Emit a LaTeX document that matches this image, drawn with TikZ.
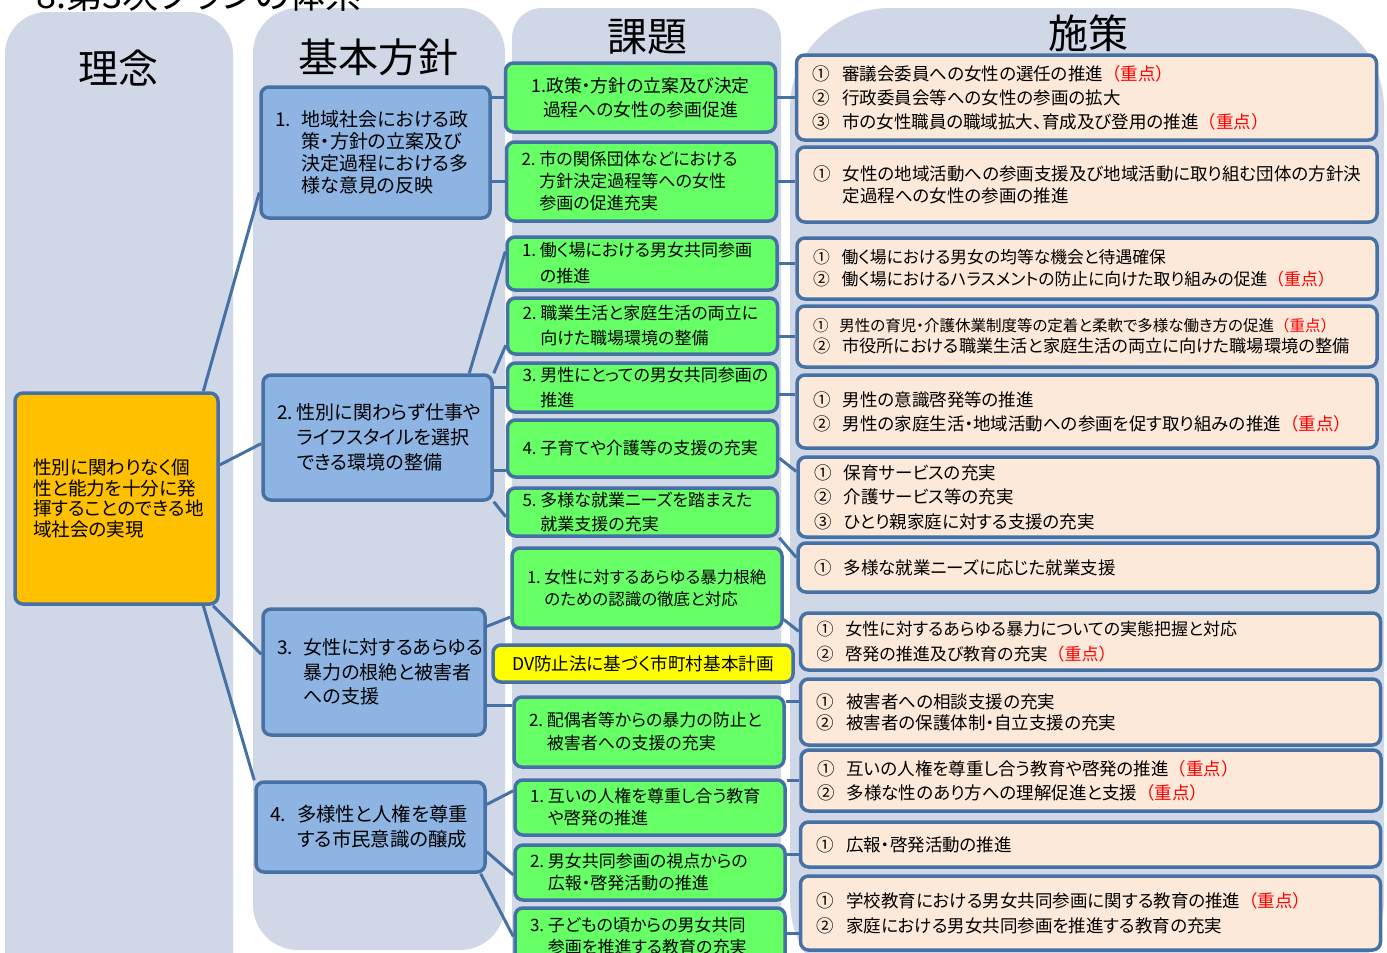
\documentclass[tikz,border=0pt]{standalone}
\usepackage{fontspec}
\setmainfont{Noto Sans CJK JP}[RawFeature=+palt]
\newfontfamily\jpmono{Noto Sans CJK JP}
\definecolor{colfill}{RGB}{208,216,232}
\definecolor{boxline}{RGB}{70,113,165}
\definecolor{bfill}{RGB}{142,180,227}
\definecolor{gfill}{RGB}{102,255,102}
\definecolor{sfill}{RGB}{253,233,217}
\definecolor{rootfill}{RGB}{255,192,0}
\definecolor{dvfill}{RGB}{255,255,0}
\definecolor{keyred}{RGB}{255,0,0}
\newcommand\keypt{{\jpmono\textcolor{keyred}{（重点）}}}
\newcommand\bnum[1]{\makebox[1.4em][l]{#1}}
\newcommand\bhang{\hspace*{1.4em}}
\newcommand\gnum[1]{\makebox[1.05em][l]{#1}}
\newcommand\ghang{\hspace*{1.05em}}
\newcommand\snum[1]{\makebox[1.7em][l]{#1}}
\newcommand\shang{\hspace*{1.7em}}
\begin{document}
\begin{tikzpicture}[x=1pt,y=-1pt,
  colbg/.style={fill=colfill},
  hdr/.style={font=\fontsize{40}{48}\selectfont},
  box/.style={draw=boxline, line width=3.5pt, rounded corners=8pt, inner ysep=0pt, align=left},
  bbox/.style={box, fill=bfill, inner xsep=14pt, font=\fontsize{19}{22}\selectfont},
  gbox/.style={box, fill=gfill, inner xsep=15pt, text width=240pt, font=\fontsize{17}{23}\selectfont},
  sbox/.style={box, fill=sfill, inner xsep=16pt, text width=548pt, font=\fontsize{17.5}{24}\selectfont},
  link/.style={draw=boxline, line width=3pt}]
\useasboundingbox (0,0) rectangle (1387,953);

% columns
\fill[colbg, rounded corners=42pt] (5,12) rectangle (233,1000);
\fill[colbg, rounded corners=45pt] (253,8) rectangle (505,950);
\fill[colbg, rounded corners=30pt] (512,8) rectangle (781,1000);
\fill[colbg, rounded corners=100pt] (790,8) rectangle (1384,1000);

\node[anchor=base west, font=\fontsize{36}{40}\selectfont] (title) at (33,8.5) {8.第3次プランの体系};
\node[hdr] (h1) at (118,68) {理念};
\node[hdr] (h2) at (378,57) {基本方針};
\node[hdr] (h3) at (647,37) {課題};
\node[hdr] (h4) at (1088,33) {施策};

% root
\node[box, fill=rootfill, text width=167pt, inner xsep=18pt, minimum height=211pt, font=\fontsize{18.6}{20.5}\selectfont] (root) at (116.5,498.5) {性別に関わりなく個\\性と能力を十分に発\\揮することのできる地\\域社会の実現};

% basic policies
\node[bbox, text width=201pt, minimum height=131pt] (b1) at (375.5,152.5) {\bnum{1.}地域社会における政\\\bhang 策・方針の立案及び\\\bhang 決定過程における多\\\bhang 様な意見の反映};
\node[bbox, text width=201pt, minimum height=125pt, font=\fontsize{19}{25}\selectfont] (b2) at (377.5,437.5) {\gnum{2.}性別に関わらず仕事や\\\ghang ライフスタイルを選択\\\ghang できる環境の整備};
\node[bbox, text width=194pt, minimum height=126pt, font=\fontsize{19}{24.5}\selectfont] (b3) at (374,672) {\bnum{3.}女性に対するあらゆる\\\bhang 暴力の根絶と被害者\\\bhang への支援};
\node[bbox, text width=201pt, minimum height=90pt, font=\fontsize{19.4}{25}\selectfont] (b4) at (370.5,827) {\bnum{4.}多様性と人権を尊重\\\bhang する市民意識の醸成};

% issues
\node[gbox, align=center, minimum height=69pt, font=\fontsize{17.8}{24}\selectfont] (g11) at (640.5,97.5) {1.政策・方針の立案及び決定\\過程への女性の参画促進};
\node[gbox, minimum height=79pt, font=\fontsize{17}{22}\selectfont] (g12) at (641.5,181.5) {\gnum{2.}市の関係団体などにおける\\\ghang 方針決定過程等への女性\\\ghang 参画の促進充実};
\node[gbox, minimum height=53pt, font=\fontsize{17}{26}\selectfont] (g21) at (642,263.5) {\gnum{1.}働く場における男女共同参画\\\ghang の推進};
\node[gbox, minimum height=56pt, font=\fontsize{17}{25}\selectfont] (g22) at (642.5,326) {\gnum{2.}職業生活と家庭生活の両立に\\\ghang 向けた職場環境の整備};
\node[gbox, minimum height=49pt, font=\fontsize{17}{25}\selectfont] (g23) at (642.5,387.5) {\gnum{3.}男性にとっての男女共同参画の\\\ghang 推進};
\node[gbox, minimum height=57pt] (g24) at (642.5,448.5) {\gnum{4.}子育てや介護等の支援の充実};
\node[gbox, minimum height=48pt, font=\fontsize{17}{24}\selectfont] (g25) at (642.5,512) {\gnum{5.}多様な就業ニーズを踏まえた\\\ghang 就業支援の充実};
\node[gbox, minimum height=80pt, font=\fontsize{16.5}{22}\selectfont] (g31) at (647,588) {\gnum{1.}女性に対するあらゆる暴力根絶\\\ghang のための認識の徹底と対応};
\node[box, fill=dvfill, minimum width=300pt, minimum height=37pt, align=center, font=\fontsize{17.6}{20}\selectfont] (dv) at (643,663.5) {DV防止法に基づく市町村基本計画};
\node[gbox, minimum height=70pt] (g32) at (649,732) {\gnum{2.}配偶者等からの暴力の防止と\\\ghang 被害者への支援の充実};
\node[gbox, minimum height=55pt, font=\fontsize{17}{22}\selectfont] (g41) at (650,807.5) {\gnum{1.}互いの人権を尊重し合う教育\\\ghang や啓発の推進};
\node[gbox, minimum height=55pt, font=\fontsize{17}{22}\selectfont] (g42) at (650,872.5) {\gnum{2.}男女共同参画の視点からの\\\ghang 広報・啓発活動の推進};
\node[gbox, minimum height=57pt, font=\fontsize{17}{22}\selectfont] (g43) at (650,936.5) {\gnum{3.}子どもの頃からの男女共同\\\ghang 参画を推進する教育の充実};

% measures
\node[sbox, minimum height=85pt] (s1) at (1086.5,97.5) {\snum{①}審議会委員への女性の選任の推進\keypt\\\snum{②}行政委員会等への女性の参画の拡大\\\snum{③}市の女性職員の職域拡大、育成及び登用の推進\keypt};
\node[sbox, minimum height=75pt, font=\fontsize{17.5}{22}\selectfont] (s2) at (1087,184.5) {\snum{①}女性の地域活動への参画支援及び地域活動に取り組む団体の方針決\\\shang 定過程への女性の参画の推進};
\node[sbox, minimum height=61pt, font=\fontsize{16.8}{22}\selectfont] (s3) at (1087,268.5) {\snum{①}働く場における男女の均等な機会と待遇確保\\\snum{②}働く場におけるハラスメントの防止に向けた取り組みの促進\keypt};
\node[sbox, minimum height=61pt, font=\fontsize{17.2}{21}\selectfont] (s4) at (1087,336.5) {{\fontsize{15.5}{21}\selectfont\snum{①}男性の育児・介護休業制度等の定着と柔軟で多様な働き方の促進\keypt}\\\snum{②}市役所における職業生活と家庭生活の両立に向けた職場環境の整備};
\node[sbox, minimum height=73pt] (s5) at (1087,411.5) {\snum{①}男性の意識啓発等の推進\\\snum{②}男性の家庭生活・地域活動への参画を促す取り組みの推進\keypt};
\node[sbox, minimum height=80pt, font=\fontsize{17.5}{24.5}\selectfont] (s6) at (1088,497) {\snum{①}保育サービスの充実\\\snum{②}介護サービス等の充実\\\snum{③}ひとり親家庭に対する支援の充実};
\node[sbox, minimum height=49pt] (s7) at (1088,567.5) {\snum{①}多様な就業ニーズに応じた就業支援};
\node[sbox, minimum height=57pt, font=\fontsize{17}{25}\selectfont] (s8) at (1090.5,641.5) {\snum{①}女性に対するあらゆる暴力についての実態把握と対応\\\snum{②}啓発の推進及び教育の充実\keypt};
\node[sbox, minimum height=66pt, font=\fontsize{17.5}{21}\selectfont] (s9) at (1090.5,712) {\snum{①}被害者への相談支援の充実\\\snum{②}被害者の保護体制・自立支援の充実};
\node[sbox, minimum height=61pt] (s10) at (1091,780.5) {\snum{①}互いの人権を尊重し合う教育や啓発の推進\keypt\\\snum{②}多様な性のあり方への理解促進と支援\keypt};
\node[sbox, minimum height=45pt] (s11) at (1090.5,844.5) {\snum{①}広報・啓発活動の推進};
\node[sbox, minimum height=74pt, font=\fontsize{17.5}{25}\selectfont] (s12) at (1090.5,913) {\snum{①}学校教育における男女共同参画に関する教育の推進\keypt\\\snum{②}家庭における男女共同参画を推進する教育の充実};

% root -> basic policies
\draw[link] (root.51) -- (b1.199);
\draw[link] (root.18) -- (b2.183);
\draw[link] (root.312) -- (b3.171);
\draw[link] (root.309) -- (b4.north west);

% basic policies -> issues
\draw[link] (b1.east |- g11.west) -- (g11.west);
\draw[link] (b1.east |- g12.west) -- (g12.west);
\draw[link] (b2.35) -- (g21.175);
\draw[link] (b2.north east) -- (g22.188);
\draw[link] (b2.east |- g23.west) -- (g23.west);
\draw[link] (b2.east |- g24.189) -- (g24.189);
\draw[link] (b2.south east) -- (g25.182);
\draw[link] (b3.22) -- (g31.192);
\draw[link] (b3.east |- g32.169) -- (g32.169);
\draw[link] (b4.11) -- (g41.173);
\draw[link] (b4.348) -- (g42.181);
\draw[link] (b4.337) -- (g43.west);

% issues -> measures
\draw[link] (g11.east) -- (s1.west |- g11.east);
\draw[link] (g12.east) -- (s2.west |- g12.east);
\draw[link] (g21.east) -- (s3.west |- g21.east);
\draw[link] (g22.east |- s4.west) -- (s4.west);
\draw[link] (g23.357) -- (s5.west |- g23.357);
\draw[link] (g24.356) -- (s6.175);
\draw[link] (g25.south east) -- (s7.178);
\draw[link] (g31.347) -- (s8.178);
\draw[link] (g32.east |- s9.178) -- (s9.178);
\draw[link] (g41.east |- s10.west) -- (s10.west);
\draw[link] (g42.east |- s11.182) -- (s11.182);
\draw[link] (g43.east |- s12.184) -- (s12.184);
\end{tikzpicture}
\end{document}
